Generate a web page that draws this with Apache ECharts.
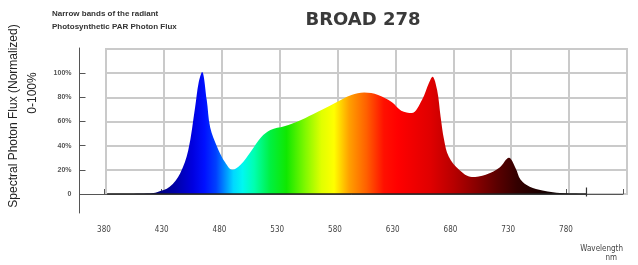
<!DOCTYPE html>
<html>
<head>
<meta charset="utf-8">
<script src="https://cdn.jsdelivr.net/npm/echarts@6/dist/echarts.min.js"></script>
<style>
  html, body { margin: 0; padding: 0; background: #fff; }
  #chart { width: 638px; height: 265px; }
</style>
</head>
<body>
<div id="chart"></div>
<script>
// wavelength (nm) and normalized photon flux (%)
var wavelengths = [381, 418, 424, 435, 444, 451, 457, 460, 463, 467, 470, 476, 483, 489, 496, 505, 514, 522, 534, 548, 563, 577, 592, 603, 615, 627, 635, 644, 653, 659, 662, 666, 669, 672, 676, 685, 696, 708, 720, 728, 734, 738, 746, 757, 766, 778, 795];
var flux = [0, 0.5, 1.5, 6, 17, 36, 72, 92, 101, 78, 55, 39, 26, 20, 24, 35, 47, 53, 56, 61, 68, 75, 82, 84, 82, 76, 69, 67, 78, 92, 97, 86, 64, 45, 31, 20, 14, 16, 22, 30, 21, 12, 6, 3, 1.5, 0.5, 0];
var baseline = [381, 795];

var xTicks = [380, 430, 480, 530, 580, 630, 680, 730, 780];
var yTicks = [0, 20, 40, 60, 80, 100];

// colour of the light at each wavelength
var spectrumStops = [
  [381, '#0a0050'], [420, '#00006e'], [440, '#0000a8'], [455, '#0000e0'],
  [465, '#0010ff'], [475, '#0040ff'], [483, '#0090ff'], [490, '#00d8ff'],
  [498, '#00f8f0'], [508, '#00ffb0'], [522, '#00f040'], [536, '#10e800'],
  [552, '#80f800'], [566, '#e0ff00'], [577, '#ffff00'], [590, '#ffa000'],
  [605, '#ff6000'], [620, '#ff1000'], [632, '#ff0000'], [660, '#e00000'],
  [680, '#b80000'], [700, '#880000'], [718, '#5a0000'], [735, '#340000'],
  [760, '#150000'], [795, '#000000']
];

var data = wavelengths.map(function (w, i) { return [w, flux[i]]; });
var w0 = wavelengths[0], w1 = wavelengths[wavelengths.length - 1];
var fill = new echarts.graphic.LinearGradient(0, 0, 1, 0, spectrumStops.map(function (s) {
  return { offset: Math.min(1, Math.max(0, (s[0] - w0) / (w1 - w0))), color: s[1] };
}));

var gridGrey = '#cacaca';
var axisGrey = '#555';
var narrow = "'DejaVu Sans Condensed', 'Liberation Sans', sans-serif";

var option = {
  backgroundColor: '#fff',
  animation: false,
  graphic: [
    { type: 'text', left: 52, top: 10, style: { text: 'Narrow bands of the radiant', fontSize: 8, fontWeight: 'bold', fill: '#333', fontFamily: 'Liberation Sans' } },
    { type: 'text', left: 52, top: 23, style: { text: 'Photosynthetic PAR Photon Flux', fontSize: 8, fontWeight: 'bold', fill: '#333', fontFamily: 'Liberation Sans' } },
    { type: 'text', x: 363, y: 20, style: { text: 'BROAD 278', fontSize: 18, fontWeight: 'bold', fill: '#3a3a3a', fontFamily: 'DejaVu Sans', align: 'center', verticalAlign: 'middle' } },
    { type: 'text', x: 14, y: 116, rotation: Math.PI / 2, style: { text: 'Spectral Photon Flux (Normalized)', fontSize: 12, fill: '#222', fontFamily: 'Liberation Sans', align: 'center', verticalAlign: 'middle' } },
    { type: 'text', x: 33, y: 93, rotation: Math.PI / 2, style: { text: '0-100%', fontSize: 12, fill: '#222', fontFamily: 'Liberation Sans', align: 'center', verticalAlign: 'middle' } },
    { type: 'text', x: 623, y: 249, style: { text: 'Wavelength', fontSize: 8, fill: '#444', fontFamily: narrow, align: 'right', verticalAlign: 'middle' } },
    { type: 'text', x: 617, y: 258, style: { text: 'nm', fontSize: 8, fill: '#444', fontFamily: narrow, align: 'right', verticalAlign: 'middle' } }
  ],
  grid: [
    { left: 79.5, right: 15, top: 48, bottom: 52, outerBoundsMode: 'none', containLabel: false },
    { left: 106, right: 11, top: 49, bottom: 71, outerBoundsMode: 'none', containLabel: false,
      show: true, backgroundColor: '#fff', borderColor: gridGrey, borderWidth: 2 }
  ],
  xAxis: [
    {
      type: 'value', gridIndex: 0, min: 358.8, max: 829.4,
      axisLine: { show: true, lineStyle: { color: axisGrey, width: 1 } },
      axisTick: { show: true, inside: true, length: 5, lineStyle: { color: axisGrey }, customValues: [358.8].concat(xTicks, [829.4]) },
      axisLabel: { show: true, customValues: xTicks, margin: 13, fontSize: 8, color: '#444', fontFamily: narrow },
      splitLine: { show: false }
    },
    {
      type: 'value', gridIndex: 1, min: 380, max: 830, interval: 50,
      axisLine: { show: false }, axisTick: { show: false }, axisLabel: { show: false },
      splitLine: { show: true, lineStyle: { color: gridGrey, width: 2 } }
    }
  ],
  yAxis: [
    {
      type: 'value', gridIndex: 0, min: -15.7, max: 120.7,
      axisLine: { show: true, lineStyle: { color: axisGrey, width: 1 } },
      axisTick: { show: true, inside: true, length: 6, lineStyle: { color: axisGrey }, customValues: yTicks },
      axisLabel: {
        show: true, customValues: yTicks, margin: 8, fontSize: 7, fontWeight: 'bold', color: '#555', fontFamily: 'Liberation Sans',
        formatter: function (v) { return v === 0 ? '0' : v + '%'; }
      },
      splitLine: { show: false }
    },
    {
      type: 'value', gridIndex: 1, min: 0, max: 120, interval: 20,
      axisLine: { show: false }, axisTick: { show: false }, axisLabel: { show: false },
      splitLine: { show: true, lineStyle: { color: gridGrey, width: 2 } }
    }
  ],
  series: [
    {
      type: 'line', xAxisIndex: 1, yAxisIndex: 1, data: data,
      smooth: 0.35, symbol: 'none', clip: false,
      lineStyle: { width: 0 },
      areaStyle: { color: fill, opacity: 1 },
      z: 3
    },
    {
      type: 'line', xAxisIndex: 1, yAxisIndex: 1,
      data: [
        { value: [baseline[0], 0], symbol: 'none' },
        { value: [baseline[1], 0], symbol: 'rect', symbolSize: [1.2, 9], symbolOffset: [0, -2] }
      ],
      showSymbol: true,
      itemStyle: { color: '#333' },
      lineStyle: { color: '#222', width: 1.5 },
      z: 4
    }
  ]
};

var chart = echarts.init(document.getElementById('chart'), null, { renderer: 'canvas' });
chart.setOption(option);
</script>
</body>
</html>
